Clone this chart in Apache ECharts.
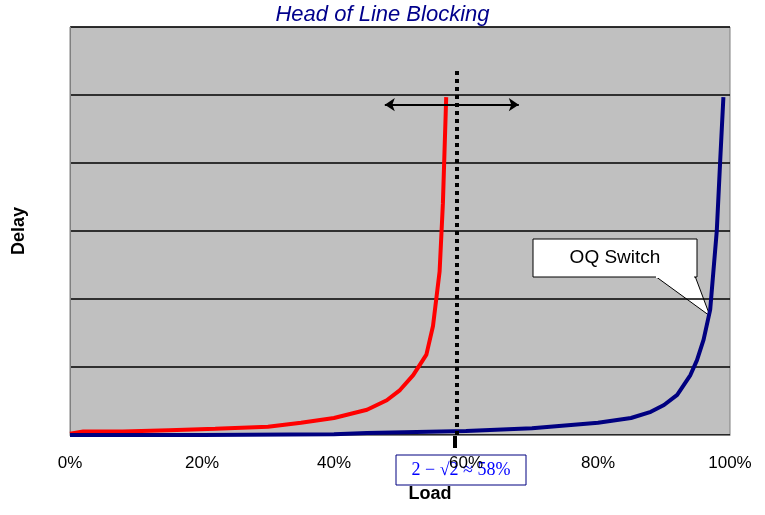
<!DOCTYPE html>
<html>
<head>
<meta charset="utf-8">
<script src="https://cdn.jsdelivr.net/npm/echarts@6/dist/echarts.min.js"></script>
<style>html,body{margin:0;padding:0;background:#fff}#c{width:765px;height:515px}</style>
</head>
<body>
<div id="c"></div>
<script>
// load (%) vs delay (arbitrary units, 6 = top of plot)
var holLoad  = [0, 2, 8, 15, 22, 30, 35, 40, 45, 48, 50, 52, 54, 55, 56, 56.5, 57];
var holDelay = [0.02, 0.05, 0.05, 0.07, 0.09, 0.12, 0.18, 0.25, 0.37, 0.51, 0.66, 0.88, 1.18, 1.6, 2.4, 3.4, 4.96];
var oqLoad   = [0, 20, 40, 45, 60, 70, 80, 85, 88, 90, 92, 94, 95, 96, 97, 98, 98.5, 99];
var oqDelay  = [0, 0, 0.01, 0.03, 0.06, 0.1, 0.18, 0.25, 0.34, 0.44, 0.59, 0.88, 1.1, 1.4, 1.84, 3.0, 4.0, 4.96];
var xTicks = [0, 20, 40, 60, 80, 100];
var boundary = 58.6;

function pairs(xs, ys) { return xs.map(function (x, i) { return [x, ys[i]]; }); }

var chart = echarts.init(document.getElementById('c'));
chart.setOption({
    animation: false,
    title: {
        text: 'Head of Line Blocking', left: 'center', top: -1,
        textStyle: { color: '#00008b', fontStyle: 'italic', fontWeight: 'normal', fontSize: 22, fontFamily: 'Liberation Sans' }
    },
    grid: { left: 70, right: 35, top: 27, bottom: 80, show: true, backgroundColor: '#c0c0c0', borderColor: '#808080', borderWidth: 1 },
    xAxis: {
        type: 'value', min: 0, max: 100, interval: 20,
        name: 'Load', nameLocation: 'middle', nameGap: 50,
        nameTextStyle: { fontWeight: 'bold', fontSize: 18, color: '#000', fontFamily: 'Liberation Sans', padding: [0, 0, 0, 60] },
        axisLine: { lineStyle: { color: '#808080' } },
        axisTick: { show: false },
        splitLine: { show: false },
        axisLabel: { color: '#000', fontSize: 17, margin: 20, fontFamily: 'Liberation Sans',
            formatter: function (v) { return xTicks.indexOf(v) >= 0 ? v + '%' : ''; } }
    },
    yAxis: {
        type: 'value', min: 0, max: 5.99, interval: 1,
        name: 'Delay', nameLocation: 'middle', nameGap: 42,
        nameTextStyle: { fontWeight: 'bold', fontSize: 18, color: '#000', fontFamily: 'Liberation Sans' },
        axisLabel: { show: false }, axisTick: { show: false },
        axisLine: { show: true, lineStyle: { color: '#808080' } },
        splitLine: { lineStyle: { color: '#000', width: 1.5 } }
    },
    series: [
        {
            type: 'line', data: pairs(holLoad, holDelay), showSymbol: false,
            lineStyle: { color: '#ff0000', width: 4 }, z: 3,
            markLine: {
                silent: true, symbol: ['none', 'none'], label: { show: false },
                lineStyle: { type: 'dotted', color: '#000', width: 4 },
                data: [[{ coord: [boundary, 0] }, { coord: [boundary, 5.37] }]]
            }
        },
        {
            type: 'line', data: pairs(oqLoad, oqDelay), showSymbol: false,
            lineStyle: { color: '#000080', width: 4 },
            markLine: {
                silent: true, symbol: ['arrow', 'arrow'], symbolSize: 10, label: { show: false },
                lineStyle: { type: 'solid', color: '#000', width: 2 },
                data: [[{ coord: [47.7, 4.85] }, { coord: [68, 4.85] }]]
            }
        }
    ],
    graphic: [
        { type: 'rect', shape: { x: 453, y: 436, width: 4, height: 12 }, style: { fill: '#000' } },
        { type: 'polygon', shape: { points: [[655, 276], [695, 276], [710, 316]] }, style: { fill: '#fff', stroke: '#000', lineWidth: 1 } },
        { type: 'rect', shape: { x: 533, y: 239, width: 164, height: 38 }, style: { fill: '#fff', stroke: '#000', lineWidth: 1 } },
        { type: 'rect', shape: { x: 656, y: 275, width: 38, height: 3 }, style: { fill: '#fff' } },
        { type: 'text', x: 615, y: 258, style: { text: 'OQ Switch', fill: '#000', fontSize: 19, fontFamily: 'Liberation Sans', align: 'center', verticalAlign: 'middle' } },
        { type: 'rect', shape: { x: 396, y: 455, width: 130, height: 30 }, style: { fill: '#fff', stroke: '#000080', lineWidth: 1 } },
        { type: 'text', x: 461, y: 470, style: { text: '2 − √2 ≈ 58%', fill: '#0000ff', fontSize: 18, fontFamily: 'Liberation Serif', align: 'center', verticalAlign: 'middle' } }
    ]
});
</script>
</body>
</html>
